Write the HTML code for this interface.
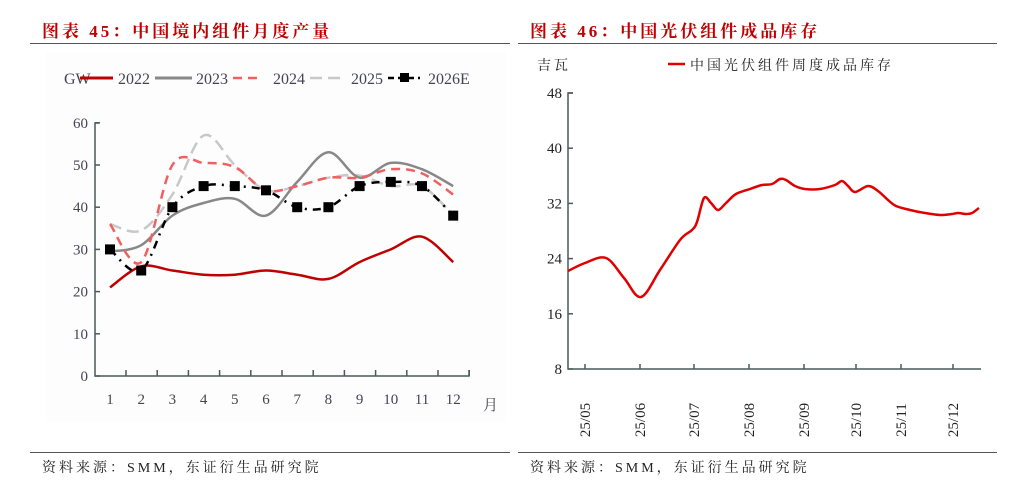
<!DOCTYPE html>
<html><head><meta charset="utf-8"><style>
body{margin:0;background:#fff;width:1024px;height:486px;overflow:hidden;font-family:"Liberation Serif","Noto Serif CJK SC",serif}
svg text{font-family:"Liberation Serif","Noto Serif CJK SC",serif}
</style></head><body>
<svg id="s" width="1024" height="486" viewBox="0 0 1024 486" xmlns="http://www.w3.org/2000/svg">
<rect x="46" y="52" width="460" height="370" fill="#fdfdfd"/>
<text x="42" y="37" fill="#c00000" font-size="17" font-weight="bold" letter-spacing="3" font-family="Noto Serif CJK SC,serif">图表 45：中国境内组件月度产量</text>
<text x="530" y="37" fill="#c00000" font-size="17" font-weight="bold" letter-spacing="3" font-family="Noto Serif CJK SC,serif">图表 46：中国光伏组件成品库存</text>
<line x1="30" y1="43.5" x2="510" y2="43.5" stroke="#555" stroke-width="1"/>
<line x1="518" y1="43.5" x2="997" y2="43.5" stroke="#555" stroke-width="1"/>
<line x1="30" y1="452.5" x2="510" y2="452.5" stroke="#555" stroke-width="1"/>
<line x1="518" y1="452.5" x2="997" y2="452.5" stroke="#555" stroke-width="1"/>
<text x="42" y="472" font-size="14" fill="#222" letter-spacing="3">资料来源：SMM，东证衍生品研究院</text>
<text x="530" y="472" font-size="14" fill="#222" letter-spacing="3">资料来源：SMM，东证衍生品研究院</text>
<g font-size="16" fill="#445">
<text x="64" y="84">GW</text>
<line x1="80" y1="78" x2="113" y2="78" stroke="#c00000" stroke-width="3"/>
<text x="118" y="84">2022</text>
<line x1="155" y1="78" x2="192" y2="78" stroke="#888" stroke-width="3"/>
<text x="196" y="84">2023</text>
<line x1="233" y1="78" x2="262" y2="78" stroke="#f06060" stroke-width="2.5" stroke-dasharray="9,6"/>
<text x="273" y="84">2024</text>
<line x1="310" y1="78" x2="346" y2="78" stroke="#c8c8c8" stroke-width="2.5" stroke-dasharray="12,6"/>
<text x="351" y="84">2025</text>
<line x1="388" y1="78" x2="420" y2="78" stroke="#000" stroke-width="2.5" stroke-dasharray="6,4"/>
<rect x="400" y="73" width="9" height="9" fill="#000"/>
<text x="428" y="84">2026E</text>
</g>
<g id="lax" stroke="#4a5a5a" stroke-width="1.5" fill="none"></g>
<g id="ltx" font-size="15" fill="#445"></g>
<g id="lser"></g>
<text x="537" y="70" font-size="14" fill="#222" letter-spacing="3">吉瓦</text>
<line x1="668" y1="64" x2="685" y2="64" stroke="#e00000" stroke-width="2.5"/>
<text x="690" y="70" font-size="14" fill="#222" letter-spacing="3">中国光伏组件周度成品库存</text>
<g id="rax" stroke="#4a5a5a" stroke-width="1.5" fill="none"></g>
<g id="rtx" font-size="15" fill="#222"></g>
<path id="rl" fill="none" stroke="#e00000" stroke-width="2.5"/>
</svg>
<script>
var NS="http://www.w3.org/2000/svg";
function el(p,t,a,txt){var e=document.createElementNS(NS,t);for(var k in a)e.setAttribute(k,a[k]);if(txt!=null)e.textContent=txt;document.getElementById(p).appendChild(e);return e;}
function cr(pts){var d="M"+pts[0][0]+","+pts[0][1];for(var i=0;i<pts.length-1;i++){var p0=pts[i-1]||pts[i],p1=pts[i],p2=pts[i+1],p3=pts[i+2]||p2;var c1=[p1[0]+(p2[0]-p0[0])/6,p1[1]+(p2[1]-p0[1])/6],c2=[p2[0]-(p3[0]-p1[0])/6,p2[1]-(p3[1]-p1[1])/6];d+=" C"+c1[0].toFixed(1)+","+c1[1].toFixed(1)+" "+c2[0].toFixed(1)+","+c2[1].toFixed(1)+" "+p2[0].toFixed(1)+","+p2[1].toFixed(1);}return d;}
el("lax","path",{d:"M99,123 H95 V376 H469 V370"});
for(var v=0;v<=60;v+=10){var y=376-v*4.22;el("lax","line",{x1:95,y1:y,x2:100,y2:y});el("ltx","text",{x:88,y:y+5,"text-anchor":"end"},v);}
for(var i=0;i<12;i++){var x=126+i*31.2;el("lax","line",{x1:x,y1:376,x2:x,y2:370});el("ltx","text",{x:110+i*31.2,y:404,"text-anchor":"middle"},i+1);}
el("ltx","text",{x:483,y:410,"font-family":"Noto Serif CJK SC,serif"},"月");
function X(m){return 110+m*31.2}function Y(v){return 376-v*4.22}
var S=[
 {d:[36,34.5,43,57,50,44,45,47,47.5,45,45,38],c:"#c8c8c8",w:2.5,da:"12,6"},
 {d:[29.5,31,38,41,42,38,46,53,47,50.5,49,45],c:"#888",w:2.5},
 {d:[36,27,50,50.5,49.5,44,45,47,47,49,48,43],c:"#f06060",w:2.5,da:"9,6"},
 {d:[21,26,25,24,24,25,24,23,27,30,33,27],c:"#c00000",w:2.5},
 {d:[30,25,40,45,45,44,40,40,45,46,45,38],c:"#000",w:2.5,da:"8,6,2,6",m:1}];
S.forEach(function(s){var p=s.d.map(function(v,i){return[X(i),Y(v)]});var a={d:cr(p),fill:"none",stroke:s.c,"stroke-width":s.w};if(s.da)a["stroke-dasharray"]=s.da;el("lser","path",a);if(s.m)p.forEach(function(q){el("lser","rect",{x:q[0]-5,y:q[1]-5,width:10,height:10,fill:"#000"})});});
el("rax","path",{d:"M573,93 H568 V369 H981"});
[48,40,32,24,16,8].forEach(function(v){var y=369-(v-8)*6.9;el("rax","line",{x1:568,y1:y,x2:573,y2:y});el("rtx","text",{x:562,y:y+5,"text-anchor":"end"},v);});
[[585,"25/05"],[640,"25/06"],[694,"25/07"],[749,"25/08"],[804,"25/09"],[856,"25/10"],[901,"25/11"],[953,"25/12"]].forEach(function(t){el("rax","line",{x1:t[0],y1:369,x2:t[0],y2:364});el("rtx","text",{transform:"translate("+(t[0]+5)+",420) rotate(-90)","text-anchor":"middle"},t[1]);});
var R=[[568,271],[585,263],[606,258],[624,278],[641,297],[660,270],[680,240],[692,230],[697,222],[704,198],[711,203],[718,210],[726,203],[736,194],[750,189],[762,185],[772,184],[780,179],[786,180],[795,186],[805,189],[820,189],[835,185],[842,181],[848,186],[855,192],[868,186],[878,191],[888,200],[896,206],[910,210],[925,213],[940,215],[952,214],[958,213],[966,214],[972,213],[979,208]];
document.getElementById("rl").setAttribute("d",cr(R));
</script>
</body></html>
